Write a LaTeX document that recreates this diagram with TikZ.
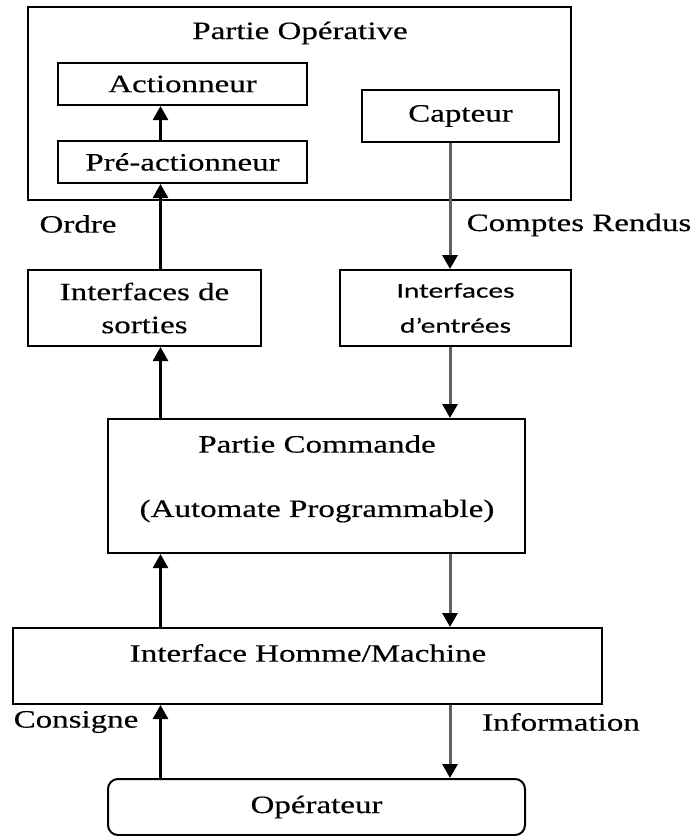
\documentclass[tikz,border=0pt]{standalone}
\usepackage{fontspec}
\setmainfont{Liberation Serif}[FakeStretch=1.32,FakeBold=0.4]
\newfontfamily\calib{Carlito}[FakeStretch=1.4,FakeBold=0.3]
\usepackage{tikz}
\usetikzlibrary{arrows.meta,positioning}

\tikzset{
	box/.style={draw=black,line width=2pt,rectangle,inner sep=0pt},
	txt/.style={font=\fontsize{25}{33}\selectfont,inner sep=0pt},
	up/.style={draw=black,line width=2.6pt,-{Triangle[width=15pt,length=14pt]}},
	down/.style={draw=black!62,line width=3pt,-{Triangle[width=15pt,length=14pt,black]}}
}

\begin{document}
\begin{tikzpicture}[x=1pt,y=-1pt]
	\useasboundingbox (0,0) rectangle (691,836);
	% the two columns of arrows
	\coordinate (lx) at (160.5,0);
	\coordinate (rx) at (450,0);
	%% partie operative
	\node[box,minimum width=543,minimum height=193] (po) at (299.5,103.5) {};
	\node[txt] (potitle) at (300,33) {Partie Opérative};
	\node[box,txt,minimum width=249,minimum height=42] (act) at (182.5,84) {Actionneur};
	\node[box,txt,minimum width=249,minimum height=42] (pre) at (182.5,162) {Pré-actionneur};
	\node[box,txt,minimum width=197,minimum height=52] (capt) at (460.5,116) {Capteur};
	%% interfaces
	\node[box,txt,align=center,minimum width=233,minimum height=76] (sort) at (144.5,308) {Interfaces de\\sorties};
	\node[box,align=center,font=\calib\fontsize{21}{35}\selectfont,inner sep=0pt,
	minimum width=231,minimum height=76] (entr) at (455.5,308) {Interfaces\\d’entrées};
	%% partie commande
	\node[box,minimum width=417,minimum height=134] (cmd) at (316.5,486) {};
	\node[txt] (cmdtitle) at (317,444) {Partie Commande};
	\node[txt] (cmdsub) at (317,511) {(Automate Programmable)};
	%% dialogue
	\node[box,minimum width=589,minimum height=76] (ihm) at (307.5,666) {};
	\node[txt] (ihmtitle) at (308,653) {Interface Homme/Machine};
	\node[box,txt,rounded corners=10pt,minimum width=417,minimum height=56] (oper) at (316.5,807) {Opérateur};
	%% the labels
	\node[txt] (ordre) at (78,224) {Ordre};
	\node[txt] (cr) at (579,225) {Comptes Rendus};
	\node[txt] (consigne) at (76,722) {Consigne};
	\node[txt] (info) at (561,722) {Information};
	%% arrows
	\draw[up] (pre.north -| lx) -- (act.south -| lx);
	\draw[up] (sort.north -| lx) -- (pre.south -| lx);
	\draw[up] (cmd.north -| lx) -- (sort.south -| lx);
	\draw[up] (ihm.north -| lx) -- (cmd.south -| lx);
	\draw[up] (oper.north -| lx) -- (ihm.south -| lx);
	\draw[down] (capt.south -| rx) -- (entr.north -| rx);
	\draw[down] (entr.south -| rx) -- (cmd.north -| rx);
	\draw[down] (cmd.south -| rx) -- (ihm.north -| rx);
	\draw[down] (ihm.south -| rx) -- (oper.north -| rx);
\end{tikzpicture}
\end{document}
